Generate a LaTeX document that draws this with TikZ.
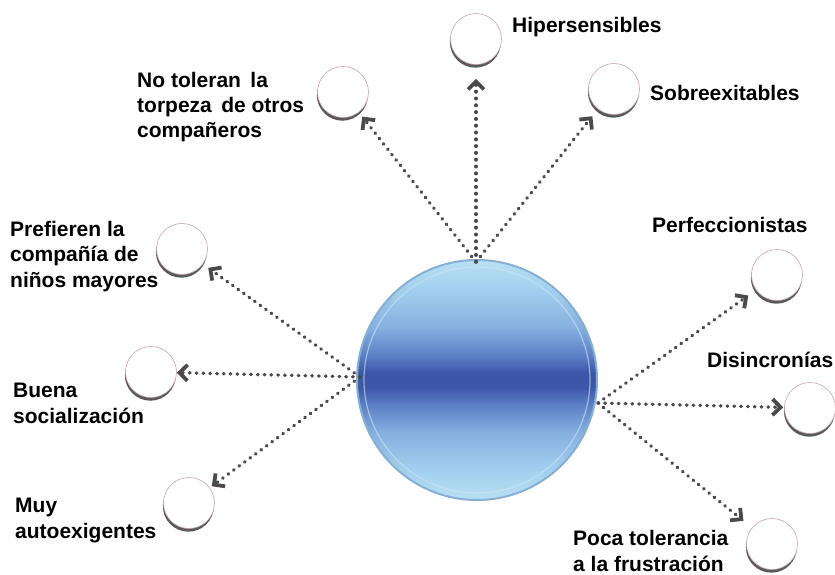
\documentclass[tikz,border=0pt]{standalone}
\usepackage{fontspec}
\setmainfont{Liberation Sans}
\usetikzlibrary{arrows.meta,shadows}
\definecolor{arrowgray}{HTML}{4A4A4A}
\definecolor{pinkline}{HTML}{C9A3B3}
\definecolor{shadowgray}{HTML}{5A5A5A}
\definecolor{rimblue}{HTML}{86B0D2}
\definecolor{ringblue}{HTML}{CBE6F6}
\definecolor{bA}{HTML}{B9E0F4}
\definecolor{bB}{HTML}{A3D0EF}
\definecolor{bC}{HTML}{86B0E0}
\definecolor{bD}{HTML}{5B7EC4}
\definecolor{bE}{HTML}{3D57A8}
\pgfdeclareverticalshading{ballshade}{100bp}{%
  color(0bp)=(bA); color(25bp)=(bA); color(31bp)=(bB); color(39bp)=(bC);
  color(45bp)=(bD); color(48.5bp)=(bE); color(51.5bp)=(bE); color(55bp)=(bD);
  color(61bp)=(bC); color(69bp)=(bB); color(75bp)=(bA); color(100bp)=(bA)}
\tikzset{
  bubble/.style={circle, minimum size=51pt, inner sep=0pt, draw=pinkline,
    line width=0.6pt, fill=white,
    drop shadow={shadow xshift=-0.6pt, shadow yshift=-3.2pt, fill=shadowgray, opacity=1}},
  lbl/.style={font=\fontsize{21}{25.5}\selectfont\bfseries, inner sep=0pt,
    align=left, anchor=base west, text=black},
  link/.style={draw=arrowgray, line width=3.4pt, line cap=round,
    dash pattern=on 0.6pt off 6.2pt,
    -{Straight Barb[length=8pt,width=16pt,line width=3.8pt]}}
}
\begin{document}
\begin{tikzpicture}[x=1pt,y=-1pt]
\useasboundingbox (0,0) rectangle (835,575);
% central ball
\node[circle, minimum size=240pt, inner sep=0pt, shading=ballshade,
      draw=rimblue, line width=2pt] (ball) at (477,380) {};
\draw[ringblue, line width=1.2pt, opacity=0.6] (ball.center) circle[radius=113pt];
% origins
\coordinate (otop) at (476,262);
\coordinate (oleft) at (360,377);
\coordinate (oright) at (598,403);
% bubbles
\node[bubble] (hyp) at (476,39) {};
\node[bubble] (notol) at (343,92) {};
\node[bubble] (sobre) at (614,89) {};
\node[bubble] (pref) at (182,249) {};
\node[bubble] (buena) at (151,372) {};
\node[bubble] (muy) at (189,503) {};
\node[bubble] (perf) at (777,275) {};
\node[bubble] (disin) at (810,408) {};
\node[bubble] (poca) at (772,544) {};
% labels (base = last line baseline)
\node[lbl] (thyp) at (512,33) {Hipersensibles};
\node[lbl] (tsobre) at (650,101) {Sobreexitables};
\node[lbl] (tnotol) at (137,138) {No toleran\hspace{0.45em}la\\torpeza\hspace{0.45em}de otros\\compañeros};
\node[lbl] (tpref) at (10,287) {Prefieren la\\compañía de\\niños mayores};
\node[lbl] (tbuena) at (13,423) {Buena\\socialización};
\node[lbl] (tmuy) at (15,538) {Muy\\autoexigentes};
\node[lbl] (tperf) at (652,232) {Perfeccionistas};
\node[lbl] (tdisin) at (707,367) {Disincronías};
\node[lbl] (tpoca) at (573,571) {Poca tolerancia\\a la frustración};
% connectors
\draw[link, shorten >=14pt] (otop) -- (hyp);
\draw[link, shorten >=5.5pt] (otop) -- (notol);
\draw[link, shorten >=9pt] (otop) -- (sobre);
\draw[link, shorten >=6.5pt] (oleft) -- (pref);
\draw[link, shorten >=0pt] (oleft) -- (buena);
\draw[link, shorten >=2.5pt] (oleft) -- (muy);
\draw[link, shorten >=9.5pt] (oright) -- (perf);
\draw[link, shorten >=1pt] (oright) -- (disin);
\draw[link, shorten >=11pt] (oright) -- (poca);
\end{tikzpicture}
\end{document}
